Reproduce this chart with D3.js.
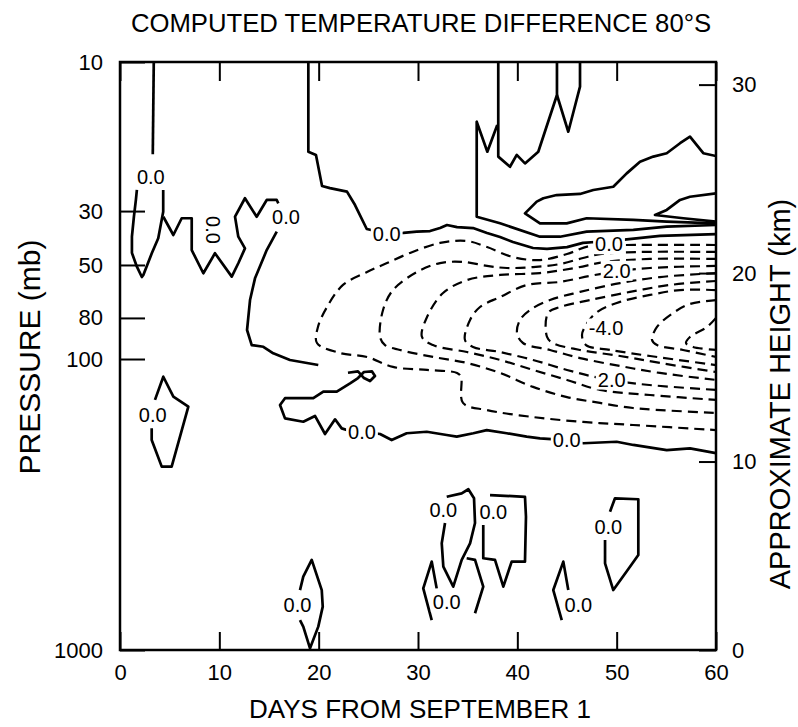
<!DOCTYPE html>
<html>
<head>
<meta charset="utf-8">
<script src="https://cdn.jsdelivr.net/npm/d3@7"></script>
<style>
body { margin: 0; background: #fff; }
svg { font-family: "Liberation Sans", Arial, Helvetica, sans-serif; }
</style>
</head>
<body>
<svg id="chart" width="798" height="727"></svg>
<script>
// axis values
var dayTicks = [0, 10, 20, 30, 40, 50, 60];
var pressureLabels = ["10", "30", "50", "80", "100", "1000"];
// height (km) at which each pressure label sits on the chart
var pressureKm = [31.2, 23.29, 20.43, 17.62, 15.44, 0];
var heightTicks = [0, 10, 20, 30];

// zero contours (solid), points are [day, km]
var zeroLines = [
  [[3.4,31.2],[3.3,26.3]],
  [[1.7,24.41],[1.6,23.88],[1.4,22.99],[1.2,21.93],[1.2,21.07],[1.7,20.34],[2.2,19.79],[2.35,19.9],[3.2,21.05],[3.85,21.85],[4.35,23.26],[4.35,24.41]],
  [[4.36,22.99],[5.37,22.02],[6.21,22.91],[7.22,22.91],[7.22,21.22],[8.39,19.99],[9.56,21.05],[11.25,19.81],[11.91,20.52],[12.58,21.31],[11.91,21.93],[11.58,22.99],[12.58,23.97],[13.76,22.99],[14.77,23.88],[15.78,23.88],[15.94,23.7]],
  [[15.78,22.2],[14.77,21.22],[13.59,19.72],[13.09,18.57],[12.79,16.98],[13.26,16.18],[14.43,16.09],[15.43,15.74],[17.11,15.39],[19.96,15.12]],
  [[18.96,31.2],[18.96,26.44],[19.73,26.27],[20.34,24.62],[21.14,24.51],[22.85,24.32],[23.66,23.61],[24.84,22.34],[26.85,22.11],[28.52,22.13],[29.87,22.2],[31.21,22.23],[32.22,22.39],[32.92,22.55],[33.93,22.44],[35.54,22.39],[36.95,22.13],[38.26,21.91],[39.56,21.65],[41.58,21.33],[42.99,21.28],[45.0,21.38],[46.61,21.6],[47.82,21.65],[49.2,21.54],[50.54,21.76],[54.36,21.97],[60,22.07]],
  [[38.08,31.2],[38.08,26.18],[39.26,25.64],[39.94,26.27],[40.77,25.82],[42.11,26.44],[43.99,29.45],[43.99,31.2]],
  [[43.99,29.45],[45.13,27.5],[46.31,29.89],[46.31,31.2]],
  [[37.98,27.86],[36.98,26.44],[35.91,28.03],[35.91,22.99],[38.26,22.64],[42.28,21.93],[44.3,21.93],[46.98,22.2],[51.68,22.29],[55.04,22.46],[60,22.55]],
  [[60,26.21],[58.72,26.36],[57.38,27.24],[56.38,26.89],[55.04,26.36],[53.69,26.18],[52.35,25.91],[51.01,25.29],[49.66,24.58],[47.65,24.41],[46.31,24.2],[43.96,24.14],[42.62,23.97],[41.95,23.79],[40.77,23.17],[42.28,22.64],[44.97,22.64],[46.98,22.91],[51.68,22.82],[55.04,22.73],[60,22.64]],
  [[60,24.23],[57.38,24.05],[56.38,23.88],[55.04,23.35],[53.86,23.08],[56.71,22.91],[60,22.73]],
  [[22.95,14.71],[23.96,14.78],[24.56,14.43],[25.17,14.27],[25.67,14.54],[25.37,14.78],[24.56,14.75],[23.96,14.43],[23.16,14.15],[21.82,13.71],[20.47,13.71],[19.46,13.36],[16.61,13.36],[16.11,13.0],[16.61,12.29],[18.45,12.11],[19.63,12.42],[20.64,11.46],[21.65,12.24],[22.32,11.76],[23.16,11.62],[24.36,11.59],[26.18,11.46],[27.35,11.14],[28.86,11.5],[30.88,11.58],[32.89,11.41],[33.9,11.32],[35.57,11.5],[36.92,11.67],[38.93,11.5],[40.94,11.32],[42.28,11.23],[44.97,11.14],[46.64,10.97],[50.0,11.05],[51.68,10.88],[55.04,10.61],[57.38,10.7],[60,10.44]],
  [[3.19,11.76],[3.19,11.14],[4.2,9.73],[5.2,9.73],[6.88,12.91],[5.37,13.44],[4.36,14.5],[3.52,13.27]],
  [[18.12,3.18],[18.45,3.89],[19.3,4.78],[20.31,3.18],[20.41,2.3],[19.96,1.24],[19.13,0.09],[18.45,1.24],[18.12,1.59]],
  [[32.72,6.74],[32.39,5.66],[32.55,4.42],[33.55,3.36],[34.4,4.78],[35.24,5.66],[35.74,6.74],[35.64,8.05],[35.07,8.53],[34.4,8.31],[32.89,8.13]],
  [[34.9,4.87],[35.74,4.78],[36.57,3.36],[35.74,1.95]],
  [[31.38,1.59],[30.53,3.27],[31.38,4.69],[31.88,3.27]],
  [[36.57,6.63],[36.57,4.87],[37.75,4.78],[38.59,3.36],[39.43,4.69],[40.77,4.69],[40.87,7.07],[40.77,8.13],[37.25,8.22]],
  [[48.83,5.84],[48.83,4.6],[49.66,3.18],[51.34,4.42],[52.18,5.04],[52.18,8.0],[49.83,8.05],[49.33,7.34]],
  [[44.47,1.59],[43.62,3.18],[44.63,4.69],[45.13,3.18]]
];

// negative contours (dashed), outermost first
var negLines = [
  [[60,21.49],[50.84,21.49],[47.32,21.44],[45.0,21.01],[42.28,20.69],[39.56,20.85],[36.95,21.38],[34.93,21.7],[32.22,21.6],[29.2,21.07],[26.88,20.53],[24.87,20.06],[22.45,19.37],[20.84,18.2],[19.93,17.14],[19.83,16.29],[22.15,15.76],[24.87,15.55],[27.48,15.02],[30.91,14.86],[33.93,14.7],[34.33,14.49],[34.53,13.11],[36.95,12.73],[41.58,12.36],[46.61,12.1],[51.65,11.94],[60,11.67]],
  [[60,21.12],[52.35,21.12],[48.32,21.01],[46.61,20.8],[44.3,20.48],[41.58,20.32],[38.96,20.27],[36.95,20.38],[34.53,20.59],[32.22,20.53],[29.9,20.06],[27.48,19.1],[26.48,18.04],[26.18,16.61],[26.68,16.18],[28.19,15.92],[31.51,15.55],[34.93,15.23],[38.26,14.7],[41.58,13.96],[45.0,13.42],[48.32,13.11],[51.65,12.84],[60,12.58]],
  [[60,20.75],[53.36,20.75],[48.83,20.59],[45.81,20.27],[42.28,20.0],[38.26,19.9],[34.93,19.63],[32.52,18.94],[30.91,17.67],[30.4,16.61],[31.51,16.18],[34.93,15.81],[38.26,15.39],[41.58,14.86],[45.0,14.33],[48.32,13.8],[53.36,13.53],[60,13.27]],
  [[60,20.38],[53.36,20.27],[49.63,20.06],[47.32,19.85],[44.3,19.53],[40.97,19.37],[38.26,18.73],[36.24,18.2],[35.24,17.51],[34.73,16.45],[35.54,16.08],[38.26,15.81],[41.58,15.39],[45.0,14.86],[48.32,14.43],[52.35,14.11],[60,13.8]],
  [[60,20.0],[54.36,19.79],[50.34,19.47],[46.31,19.0],[43.29,18.57],[41.28,18.04],[40.27,17.51],[39.97,16.82],[40.57,16.29],[43.29,15.92],[46.31,15.49],[50.34,15.07],[54.36,14.7],[60,14.33]],
  [[60,19.58],[55.37,19.37],[51.34,19.0],[47.32,18.57],[44.3,18.2],[43.09,17.88],[42.99,16.61],[43.59,16.29],[46.31,15.92],[50.34,15.6],[54.36,15.23],[60,14.75]],
  [[60,19.1],[56.38,19.1],[53.36,18.84],[50.34,18.47],[48.02,17.93],[46.91,17.25],[46.51,16.71],[46.91,16.18],[49.33,15.92],[53.36,15.6],[60,15.12]],
  [[60,18.57],[57.38,18.36],[55.67,17.88],[54.06,17.14],[53.56,16.45],[54.06,16.18],[56.68,15.92],[60,15.55]],
  [[60,17.62],[59.1,17.14],[57.38,16.61],[56.98,16.29],[57.69,16.08],[60,15.92]]
];

// contour labels [text, day, km, rotation]
var contourLabels = [
  ["0.0", 3.1, 25.11, 0], ["0.0", 9.41, 22.29, 90], ["0.0", 16.71, 22.98, 0],
  ["0.0", 26.85, 22.11, 0], ["0.0", 49.23, 21.54, 0], ["2.0", 50.0, 20.13, 0],
  ["-4.0", 48.93, 17.07, 0], ["2.0", 49.5, 14.36, 0],
  ["0.0", 3.29, 12.47, 0], ["0.0", 24.36, 11.59, 0], ["0.0", 44.97, 11.14, 0],
  ["0.0", 32.55, 7.43, 0], ["0.0", 37.58, 7.34, 0], ["0.0", 49.16, 6.54, 0],
  ["0.0", 17.87, 2.39, 0], ["0.0", 32.89, 2.56, 0], ["0.0", 46.14, 2.42, 0]
];

var svg = d3.select("#chart");
var x = d3.scaleLinear().domain([0, 60]).range([120, 716]);
var y = d3.scaleLinear().domain([0, 31.2]).range([650, 62]);

svg.append("defs").append("clipPath").attr("id", "plot")
  .append("rect").attr("x", 120).attr("y", 62).attr("width", 596).attr("height", 588);

var line = d3.line().x(function(d) { return x(d[0]); }).y(function(d) { return y(d[1]); });
var smooth = d3.line().curve(d3.curveCatmullRom.alpha(0.5))
  .x(function(d) { return x(d[0]); }).y(function(d) { return y(d[1]); });

var g = svg.append("g").attr("clip-path", "url(#plot)");

g.selectAll("path.zero").data(zeroLines).enter().append("path")
  .attr("class", "zero").attr("d", line)
  .attr("fill", "none").attr("stroke", "#000").attr("stroke-width", 2.7)
  .attr("stroke-linejoin", "round");

g.selectAll("path.neg").data(negLines).enter().append("path")
  .attr("class", "neg").attr("d", smooth)
  .attr("fill", "none").attr("stroke", "#000").attr("stroke-width", 2.2)
  .attr("stroke-dasharray", "10,6");

// labels, with a white box to break the line under them
var lab = g.selectAll("g.lab").data(contourLabels).enter().append("g")
  .attr("class", "lab")
  .attr("transform", function(d) { return "translate(" + x(d[1]) + "," + y(d[2]) + ") rotate(" + d[3] + ")"; });
lab.append("text")
  .attr("text-anchor", "middle").attr("dy", "0.36em")
  .attr("font-size", 20)
  .text(function(d) { return d[0]; });
lab.each(function() {
  var t = d3.select(this).select("text");
  var b = t.node().getBBox();
  d3.select(this).insert("rect", "text")
    .attr("x", b.x - 2).attr("y", b.y + 1).attr("width", b.width + 4).attr("height", b.height - 2)
    .attr("fill", "#fff");
});

// frame
svg.append("rect").attr("x", 120).attr("y", 62).attr("width", 596).attr("height", 588)
  .attr("fill", "none").attr("stroke", "#000").attr("stroke-width", 2.5);

// axes
var axBottom = svg.append("g").attr("transform", "translate(0,650)")
  .call(d3.axisBottom(x).tickValues(dayTicks).tickSizeInner(-18).tickSizeOuter(0).tickPadding(14));
var axTop = svg.append("g").attr("transform", "translate(0,62)")
  .call(d3.axisTop(x).tickValues(dayTicks).tickSizeInner(-19).tickSizeOuter(0).tickFormat(""));
var axLeft = svg.append("g").attr("transform", "translate(120,0)")
  .call(d3.axisLeft(y).tickValues(pressureKm).tickSizeInner(-25).tickSizeOuter(0).tickPadding(17)
    .tickFormat(function(d, i) { return pressureLabels[i]; }));
var axRight = svg.append("g").attr("transform", "translate(716,0)")
  .call(d3.axisRight(y).tickValues(heightTicks).tickSizeInner(-17).tickSizeOuter(0).tickPadding(16));

[axBottom, axTop, axLeft, axRight].forEach(function(a) {
  a.select(".domain").remove();
  a.selectAll(".tick line").attr("stroke", "#000").attr("stroke-width", 2);
  a.selectAll(".tick text").attr("font-size", 22).attr("fill", "#000")
    .attr("font-family", "Liberation Sans, Arial, sans-serif");
});

// titles
svg.append("text").attr("x", 421).attr("y", 32).attr("text-anchor", "middle")
  .attr("font-size", 25.7).text("COMPUTED TEMPERATURE DIFFERENCE 80°S");
svg.append("text").attr("x", 420).attr("y", 718).attr("text-anchor", "middle")
  .attr("font-size", 26).text("DAYS FROM SEPTEMBER 1");
svg.append("text").attr("transform", "translate(40,357) rotate(-90)").attr("text-anchor", "middle")
  .attr("font-size", 30).text("PRESSURE (mb)");
svg.append("text").attr("transform", "translate(790,394) rotate(-90)").attr("text-anchor", "middle")
  .attr("font-size", 29).text("APPROXIMATE HEIGHT (km)");
</script>
</body>
</html>
